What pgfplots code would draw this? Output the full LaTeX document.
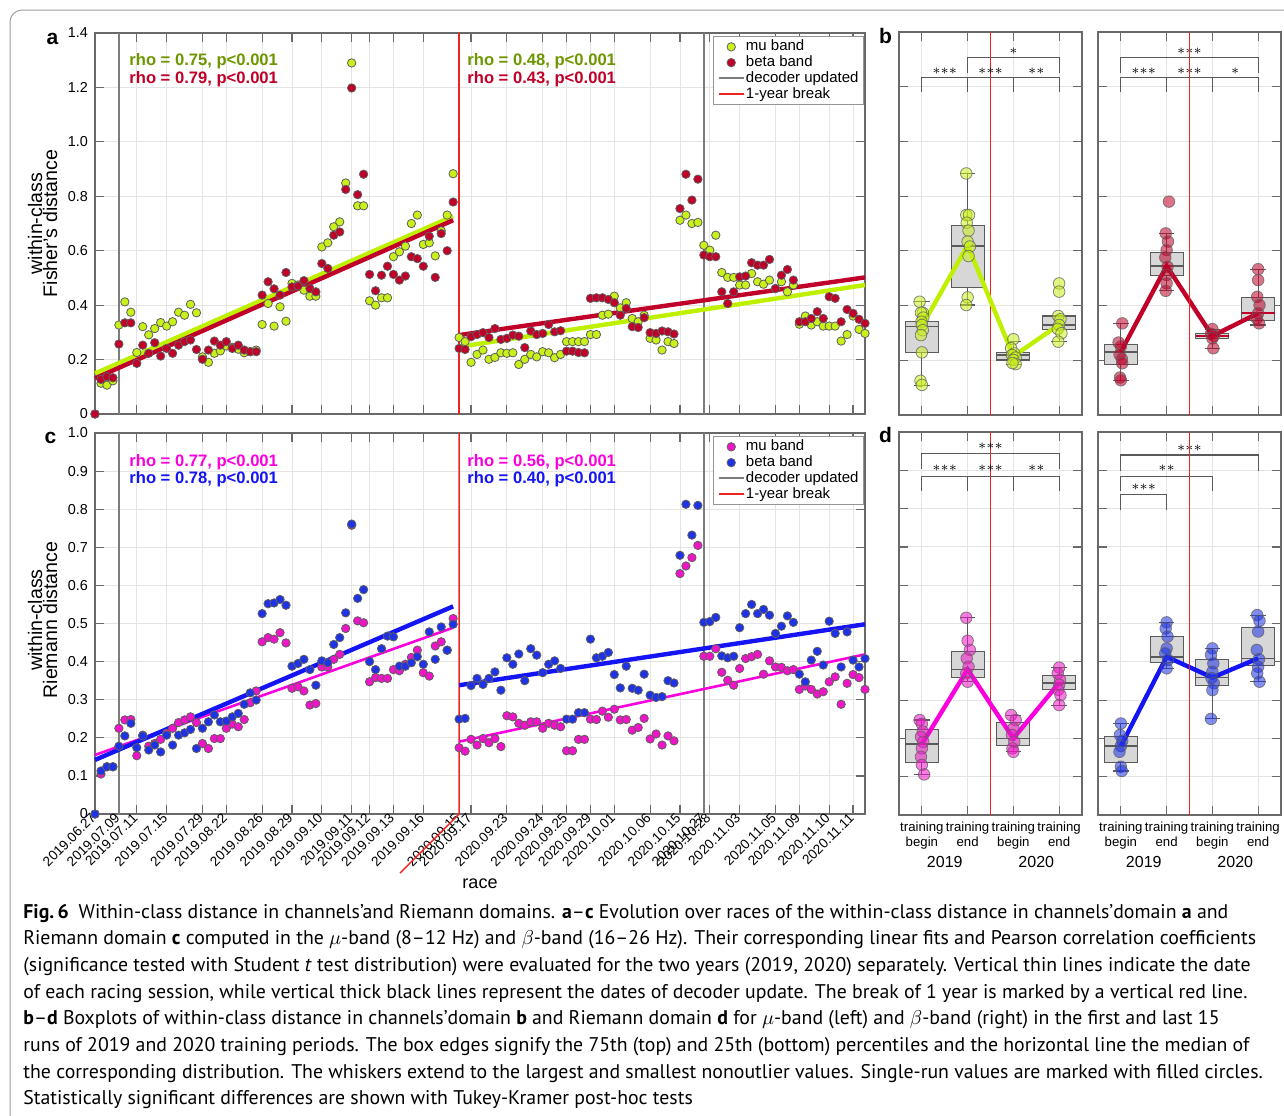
\documentclass[border=0pt]{standalone}
\usepackage{fontspec}
\setmainfont{Liberation Sans}
\newfontfamily\capfont{PT Sans}
\usepackage{pgfplots}
\pgfplotsset{compat=1.18}
\usepackage{pgfplotstable}
\usepgfplotslibrary{statistics}

\definecolor{mufill}{RGB}{200,240,25}
\definecolor{muline}{RGB}{190,240,0}
\definecolor{mutext}{RGB}{110,150,0}
\definecolor{betared}{RGB}{192,0,40}
\definecolor{magfill}{RGB}{240,20,200}
\definecolor{magline}{RGB}{250,0,220}
\definecolor{magtext}{RGB}{250,0,220}
\definecolor{bluefill}{RGB}{30,50,230}
\definecolor{blueline}{RGB}{20,20,245}
\definecolor{edgegray}{RGB}{95,95,95}
\definecolor{axgray}{RGB}{105,105,105}
\definecolor{gridgray}{RGB}{228,228,228}
\definecolor{decgray}{RGB}{125,125,125}
\definecolor{boxfill}{RGB}{215,215,215}
\definecolor{boxedge}{RGB}{90,90,90}
\definecolor{breakred}{RGB}{240,35,35}

\pgfplotstableread{
i muA betaA muC betaC
0 0 0 0 0
1 0.113 0.127 0.105 0.113
2 0.106 0.137 0.124 0.124
3 0.122 0.133 0.124 0.124
4 0.327 0.257 0.225 0.178
5 0.412 0.335 0.247 0.205
6 0.374 0.335 0.248 0.238
7 0.226 0.186 0.153 0.174
8 0.321 0.253 0.207 0.205
9 0.291 0.223 0.178 0.168
10 0.314 0.262 0.185 0.181
11 0.336 0.213 0.196 0.163
12 0.323 0.241 0.212 0.207
13 0.339 0.223 0.225 0.181
14 0.374 0.253 0.240 0.207
15 0.363 0.266 0.247 0.213
16 0.403 0.272 0.255 0.222
17 0.372 0.237 0.240 0.172
18 0.210 0.201 0.185 0.225
19 0.190 0.235 0.172 0.242
20 0.223 0.268 0.198 0.260
21 0.232 0.253 0.198 0.242
22 0.250 0.266 0.225 0.244
23 0.245 0.241 0.236 0.255
24 0.238 0.253 0.229 0.264
25 0.225 0.235 0.248 0.288
26 0.229 0.229 0.292 0.318
27 0.235 0.229 0.323 0.299
28 0.329 0.437 0.452 0.526
29 0.406 0.486 0.463 0.552
30 0.323 0.460 0.459 0.554
31 0.394 0.437 0.476 0.563
32 0.341 0.520 0.449 0.548
33 0.480 0.467 0.330 0.388
34 0.474 0.470 0.334 0.395
35 0.455 0.490 0.323 0.406
36 0.433 0.461 0.286 0.379
37 0.433 0.449 0.290 0.338
38 0.614 0.553 0.386 0.402
39 0.629 0.535 0.386 0.397
40 0.688 0.657 0.406 0.445
41 0.706 0.669 0.419 0.463
42 0.849 0.825 0.487 0.528
43 1.290 1.198 0.758 0.761
44 0.765 0.806 0.507 0.566
45 0.765 0.881 0.502 0.589
46 0.416 0.513 0.347 0.400
47 0.400 0.453 0.358 0.379
48 0.427 0.510 0.356 0.434
49 0.427 0.543 0.356 0.467
50 0.578 0.513 0.379 0.465
51 0.596 0.492 0.376 0.388
52 0.617 0.507 0.393 0.388
53 0.700 0.578 0.411 0.397
54 0.731 0.571 0.430 0.413
55 0.623 0.543 0.371 0.393
56 0.629 0.653 0.362 0.478
57 0.581 0.502 0.441 0.406
58 0.673 0.663 0.452 0.491
59 0.731 0.600 0.430 0.430
60 0.883 0.779 0.513 0.498
61 0.281 0.241 0.174 0.249
62 0.266 0.237 0.165 0.251
63 0.190 0.284 0.196 0.337
64 0.219 0.292 0.181 0.356
65 0.235 0.299 0.198 0.340
66 0.201 0.281 0.187 0.356
67 0.208 0.314 0.198 0.373
68 0.225 0.274 0.177 0.325
69 0.223 0.278 0.258 0.410
70 0.225 0.290 0.255 0.393
71 0.182 0.286 0.238 0.420
72 0.201 0.244 0.233 0.350
73 0.219 0.305 0.242 0.434
74 0.210 0.292 0.242 0.417
75 0.229 0.296 0.225 0.371
76 0.225 0.329 0.238 0.393
77 0.207 0.302 0.233 0.402
78 0.219 0.306 0.229 0.382
79 0.266 0.231 0.166 0.249
80 0.266 0.231 0.166 0.249
81 0.266 0.226 0.196 0.266
82 0.266 0.225 0.196 0.266
83 0.292 0.425 0.249 0.459
84 0.292 0.427 0.248 0.410
85 0.363 0.427 0.270 0.414
86 0.367 0.421 0.254 0.424
87 0.433 0.409 0.275 0.366
88 0.390 0.363 0.247 0.331
89 0.409 0.388 0.248 0.388
90 0.351 0.321 0.220 0.330
91 0.339 0.318 0.227 0.325
92 0.363 0.354 0.251 0.367
93 0.278 0.299 0.197 0.312
94 0.272 0.296 0.210 0.306
95 0.235 0.305 0.181 0.308
96 0.266 0.302 0.205 0.350
97 0.259 0.294 0.192 0.344
98 0.712 0.755 0.631 0.679
99 0.731 0.881 0.651 0.813
100 0.700 0.786 0.673 0.732
101 0.704 0.863 0.705 0.810
102 0.620 0.584 0.414 0.503
103 0.602 0.578 0.414 0.505
104 0.657 0.578 0.434 0.516
105 0.520 0.449 0.372 0.415
106 0.502 0.406 0.351 0.410
107 0.502 0.449 0.338 0.414
108 0.474 0.504 0.382 0.489
109 0.474 0.507 0.408 0.526
110 0.516 0.556 0.413 0.550
111 0.486 0.547 0.419 0.526
112 0.477 0.547 0.367 0.537
113 0.492 0.568 0.402 0.522
114 0.461 0.461 0.386 0.474
115 0.486 0.510 0.385 0.493
116 0.449 0.531 0.376 0.520
117 0.474 0.492 0.379 0.503
118 0.330 0.339 0.327 0.367
119 0.360 0.339 0.336 0.347
120 0.327 0.351 0.327 0.404
121 0.339 0.376 0.315 0.427
122 0.323 0.351 0.321 0.391
123 0.323 0.431 0.347 0.506
124 0.323 0.425 0.360 0.474
125 0.268 0.339 0.288 0.386
126 0.292 0.384 0.343 0.478
127 0.360 0.370 0.366 0.404
128 0.311 0.348 0.358 0.386
129 0.296 0.333 0.327 0.408
}\racedata

\pgfplotsset{
  base/.style={scale only axis, anchor=north west, clip=false,
    axis line style={draw=axgray, line width=0.8pt},
    tick style={draw=axgray, line width=0.6pt},
    major tick length=4.5pt, tick align=inside,
    grid=major, major grid style={draw=gridgray, line width=0.45pt},
    ticklabel style={font=\fontsize{7.2}{8}\selectfont}},
  race/.style={base, width=385pt, height=190.5pt, xmin=0, xmax=129,
    xtick={0,4,7,12,18,22,28,33,38,43,46,50,55,61,63,69,75,79,83,87,93,98,102,103,108,114,118,123,127}},
  pts/.style={only marks, mark=*, mark size=2.1pt, mark options={draw=edgegray, line width=0.4pt, fill=#1}, forget plot},
  bpts/.style={only marks, mark=*, mark size=2.9pt, mark options={draw=edgegray, draw opacity=0.75, line width=0.4pt, fill=#1, fill opacity=0.55}, forget plot},
  bx/.style={forget plot, draw=boxedge, fill=boxfill, line width=0.55pt, solid,
    boxplot/draw direction=y,
    boxplot/box extend=0.72, boxplot/whisker extend=0.34,
    boxplot/every median/.style={draw=#1, line width=0.8pt}},
  brk/.style={draw=breakred, color=breakred, line width=0.75pt, forget plot, mark=none, solid},
  leg/.style={legend style={at={(0.999,0.992)}, anchor=north east, draw=axgray!70, line width=0.5pt, fill=white,
    font=\fontsize{7.5}{7.5}\selectfont, inner xsep=2pt, inner ysep=1.2pt, row sep=0pt,
    nodes={inner sep=0.6pt, text height=5.3pt, text depth=1.4pt}}, legend cell align=left},
  boxax/.style={base, width=91.5pt, height=191.5pt, xmin=0.5, xmax=4.5, xtick={1,2,3,4}, xticklabels={}, yticklabels={}},
  bpanel/.style={boxax, ymin=0, ymax=1.4, ytick={0.2,0.4,0.6,0.8,1.0,1.2}},
  dpanel/.style={boxax, ymin=0, ymax=1, ytick={0.1,0.2,0.3,0.4,0.5,0.6,0.7,0.8,0.9},
    xticklabels={training\\begin,training\\end,training\\begin,training\\end},
    xticklabel style={align=center, font=\fontsize{6.6}{7.4}\selectfont}},
}
\tikzset{sig/.style={draw=boxedge, line width=0.55pt},
  redv/.style={draw=breakred, line width=0.8pt},
  star/.style={font=\fontsize{7.5}{8}\selectfont, inner sep=0pt},
  rho/.style={anchor=west, inner sep=0pt, font=\bfseries\fontsize{8.3}{9}\selectfont},
  capline/.style={anchor=base west, inner sep=0pt, font=\capfont\fontsize{9.9}{13}\selectfont}}
\newcommand\sthree{$\mathord{\ast}\mathord{\ast}\mathord{\ast}$}
\newcommand\stwo{$\mathord{\ast}\mathord{\ast}$}
\newcommand\sone{$\mathord{\ast}$}

\begin{document}
\begin{tikzpicture}
\useasboundingbox (0,0) rectangle (642pt,-557.5pt);

% ---------------- panel a ----------------
\begin{axis}[race, leg, at={(47.5pt,-16.5pt)}, ymin=0, ymax=1.4,
  ytick={0,0.2,0.4,0.6,0.8,1,1.2,1.4}, yticklabels={0,0.2,0.4,0.6,0.8,1.0,1.2,1.4},
  xticklabels={}]
\addplot[decgray, line width=1.1pt, forget plot] coordinates {(4,0) (4,1.4)};
\addplot[decgray, line width=1.1pt, forget plot] coordinates {(102,0) (102,1.4)};
\addplot[brk] coordinates {(61,0) (61,1.4)};
\addplot[pts=mufill] table[x=i, y=muA] {\racedata};
\addplot[pts=betared] table[x=i, y=betaA] {\racedata};
\addplot[muline, line width=2.2pt, forget plot] coordinates {(0,0.149) (60,0.727)};
\addplot[betared, line width=2.2pt, forget plot] coordinates {(0,0.131) (60,0.712)};
\addplot[muline, line width=2.2pt, forget plot] coordinates {(61,0.247) (129,0.474)};
\addplot[betared, line width=2.2pt, forget plot] coordinates {(61,0.290) (129,0.502)};
\addlegendimage{legend image code/.code={\draw[draw=edgegray, fill=mufill, line width=0.4pt] (6.25pt,0pt) circle[radius=2.1pt];}}
\addlegendentry{mu band}
\addlegendimage{legend image code/.code={\draw[draw=edgegray, fill=betared, line width=0.4pt] (6.25pt,0pt) circle[radius=2.1pt];}}
\addlegendentry{beta band}
\addlegendimage{legend image code/.code={\draw[decgray, line width=1pt] (0pt,0pt) -- (12.5pt,0pt);}}
\addlegendentry{decoder updated}
\addlegendimage{legend image code/.code={\draw[breakred, line width=0.9pt] (0pt,0pt) -- (12.5pt,0pt);}}
\addlegendentry{1-year break}
\end{axis}

% ---------------- panel c ----------------
\begin{axis}[race, leg, at={(47.5pt,-216.5pt)}, ymin=0, ymax=1,
  ytick={0,0.1,0.2,0.3,0.4,0.5,0.6,0.7,0.8,0.9,1}, yticklabels={0,0.1,0.2,0.3,0.4,0.5,0.6,0.7,0.8,0.9,1.0},
  xticklabels={2019.06.27,2019.07.09,2019.07.11,2019.07.15,2019.07.29,2019.08.22,2019.08.26,2019.08.29,2019.09.10,2019.09.11,2019.09.12,2019.09.13,2019.09.16,2020.09.15,2020.09.17,2020.09.23,2020.09.24,2020.09.25,2020.09.29,2020.10.01,2020.10.06,2020.10.15,2020.10.27,2020.10.28,2020.11.03,2020.11.05,2020.11.09,2020.11.10,2020.11.11},
  xticklabel style={rotate=45, anchor=east, font=\fontsize{6.8}{7}\selectfont, inner sep=1pt}]
\addplot[decgray, line width=1.1pt, forget plot] coordinates {(4,0) (4,1)};
\addplot[decgray, line width=1.1pt, forget plot] coordinates {(102,0) (102,1)};
\addplot[brk] coordinates {(61,1) (61,0) (51.1,-0.155)};
\addplot[pts=magfill] table[x=i, y=muC] {\racedata};
\addplot[pts=bluefill] table[x=i, y=betaC] {\racedata};
\addplot[magline, line width=1.3pt, forget plot] coordinates {(0,0.155) (60,0.489)};
\addplot[blueline, line width=2.2pt, forget plot] coordinates {(0,0.142) (60,0.545)};
\addplot[magline, line width=1.3pt, forget plot] coordinates {(61,0.190) (129,0.419)};
\addplot[blueline, line width=2.2pt, forget plot] coordinates {(61,0.338) (129,0.498)};
\addlegendimage{legend image code/.code={\draw[draw=edgegray, fill=magfill, line width=0.4pt] (6.25pt,0pt) circle[radius=2.1pt];}}
\addlegendentry{mu band}
\addlegendimage{legend image code/.code={\draw[draw=edgegray, fill=bluefill, line width=0.4pt] (6.25pt,0pt) circle[radius=2.1pt];}}
\addlegendentry{beta band}
\addlegendimage{legend image code/.code={\draw[decgray, line width=1pt] (0pt,0pt) -- (12.5pt,0pt);}}
\addlegendentry{decoder updated}
\addlegendimage{legend image code/.code={\draw[breakred, line width=0.9pt] (0pt,0pt) -- (12.5pt,0pt);}}
\addlegendentry{1-year break}
\end{axis}

% ---------------- panel b left (mu) ----------------
\begin{axis}[bpanel, at={(449.5pt,-16pt)}]
\addplot[bx=boxedge, boxplot prepared={draw position=1, lower whisker=0.107, lower quartile=0.229, median=0.323, upper quartile=0.341, upper whisker=0.414}] coordinates {};
\addplot[bx=boxedge, boxplot prepared={draw position=2, lower whisker=0.402, lower quartile=0.467, median=0.618, upper quartile=0.694, upper whisker=0.883}] coordinates {};
\addplot[bx=boxedge, boxplot prepared={draw position=3, lower whisker=0.186, lower quartile=0.201, median=0.219, upper quartile=0.229, upper whisker=0.268}] coordinates {};
\addplot[bx=boxedge, boxplot prepared={draw position=4, lower whisker=0.268, lower quartile=0.313, median=0.329, upper quartile=0.362, upper whisker=0.362}] coordinates {};
\addplot[bpts=mufill] coordinates {(0.95,0.414)(1.02,0.374)(0.98,0.374)(1.03,0.356)(0.99,0.341)(1.0,0.329)(1.02,0.310)(0.98,0.292)(1.0,0.229)(0.97,0.125)(1.0,0.110)
 (1.97,0.883)(1.97,0.731)(2.03,0.731)(1.98,0.703)(2.02,0.674)(2.0,0.634)(2.05,0.616)(2.02,0.581)(2.0,0.430)(1.97,0.402)
 (3.0,0.277)(2.95,0.244)(3.02,0.225)(2.97,0.219)(3.05,0.210)(3.0,0.201)(3.05,0.186)(2.98,0.190)
 (4.0,0.481)(4.0,0.451)(3.98,0.362)(4.03,0.350)(4.0,0.329)(3.97,0.315)(4.05,0.299)(3.98,0.268)};
\draw[redv] (axis cs:2.5,0) -- (axis cs:2.5,1.4);
\addplot[muline, line width=2.2pt, forget plot] coordinates {(1,0.325) (2,0.62) (3,0.215) (4,0.33)};
\draw[sig] (1,1.182) -- (1,1.234) -- (4,1.234) -- (4,1.182);
\draw[sig] (2,1.182) -- (2,1.234); \draw[sig] (3,1.182) -- (3,1.234);
\draw[sig] (2,1.249) -- (2,1.306) -- (4,1.306) -- (4,1.249);
\node[star] at (1.5,1.258) {\sthree};
\node[star] at (2.5,1.258) {\sthree};
\node[star] at (3.5,1.258) {\stwo};
\node[star] at (3,1.328) {\sone};
\end{axis}

% ---------------- panel b right (beta) ----------------
\begin{axis}[bpanel, at={(549pt,-16pt)}]
\addplot[bx=boxedge, boxplot prepared={draw position=1, lower whisker=0.125, lower quartile=0.186, median=0.231, upper quartile=0.259, upper whisker=0.335}] coordinates {};
\addplot[bx=boxedge, boxplot prepared={draw position=2, lower whisker=0.454, lower quartile=0.509, median=0.545, upper quartile=0.594, upper whisker=0.664}] coordinates {};
\addplot[bx=betared, boxplot prepared={draw position=3, lower whisker=0.244, lower quartile=0.280, median=0.289, upper quartile=0.297, upper whisker=0.314}] coordinates {};
\addplot[bx=betared, boxplot prepared={draw position=4, lower whisker=0.329, lower quartile=0.344, median=0.372, upper quartile=0.430, upper whisker=0.533}] coordinates {};
\addplot[bpts=betared] coordinates {(1.03,0.335)(0.95,0.265)(1.0,0.251)(0.97,0.221)(1.02,0.205)(1.03,0.189)(0.98,0.137)(1.0,0.127)
 (2.05,0.780)(1.98,0.664)(2.03,0.634)(2.0,0.603)(1.97,0.576)(2.02,0.542)(2.0,0.512)(2.0,0.481)(1.98,0.454)
 (3.0,0.314)(2.97,0.297)(3.03,0.289)(3.0,0.280)(3.02,0.244)
 (4.0,0.533)(4.0,0.493)(3.98,0.432)(4.03,0.402)(4.0,0.372)(3.97,0.353)(4.02,0.335)};
\addplot[betared, line width=2.2pt, forget plot] coordinates {(1,0.231) (2,0.545) (3,0.289) (4,0.372)};
\draw[sig] (1,1.182) -- (1,1.234) -- (4,1.234) -- (4,1.182);
\draw[sig] (2,1.182) -- (2,1.234); \draw[sig] (3,1.182) -- (3,1.234);
\draw[sig] (1,1.249) -- (1,1.306) -- (4,1.306) -- (4,1.249);
\node[star] at (1.5,1.258) {\sthree};
\node[star] at (2.5,1.258) {\sthree};
\node[star] at (3.5,1.258) {\sone};
\node[star] at (2.5,1.328) {\sthree};
\end{axis}

% ---------------- panel d left (mu) ----------------
\begin{axis}[dpanel, at={(449.5pt,-216pt)}]
\addplot[bx=boxedge, boxplot prepared={draw position=1, lower whisker=0.106, lower quartile=0.138, median=0.185, upper quartile=0.224, upper whisker=0.248}] coordinates {};
\addplot[bx=boxedge, boxplot prepared={draw position=2, lower whisker=0.348, lower quartile=0.359, median=0.380, upper quartile=0.426, upper whisker=0.515}] coordinates {};
\addplot[bx=boxedge, boxplot prepared={draw position=3, lower whisker=0.165, lower quartile=0.181, median=0.200, upper quartile=0.241, upper whisker=0.261}] coordinates {};
\addplot[bx=boxedge, boxplot prepared={draw position=4, lower whisker=0.287, lower quartile=0.328, median=0.344, upper quartile=0.364, upper whisker=0.385}] coordinates {};
\addplot[bpts=magfill] coordinates {(0.95,0.248)(1.0,0.238)(1.02,0.218)(0.98,0.204)(1.03,0.191)(1.0,0.174)(0.98,0.152)(1.0,0.131)(1.05,0.106)
 (1.97,0.515)(2.0,0.455)(2.05,0.431)(1.98,0.409)(2.02,0.387)(1.97,0.370)(2.0,0.348)
 (2.95,0.261)(3.05,0.248)(3.0,0.226)(2.97,0.209)(3.02,0.191)(2.98,0.174)(3.0,0.165)
 (4.0,0.385)(3.97,0.370)(4.02,0.353)(4.0,0.340)(3.98,0.327)(4.03,0.313)(4.0,0.287)};
\draw[redv] (axis cs:2.5,0) -- (axis cs:2.5,1);
\addplot[magline, line width=2.2pt, forget plot] coordinates {(1,0.185) (2,0.38) (3,0.20) (4,0.345)};
\draw[sig] (1,0.846) -- (1,0.885) -- (4,0.885) -- (4,0.846);
\draw[sig] (2,0.846) -- (2,0.885); \draw[sig] (3,0.846) -- (3,0.885);
\draw[sig] (1,0.903) -- (1,0.944) -- (4,0.944) -- (4,0.903);
\node[star] at (1.5,0.905) {\sthree};
\node[star] at (2.5,0.905) {\sthree};
\node[star] at (3.5,0.905) {\stwo};
\node[star] at (2.5,0.962) {\sthree};
\node[font=\fontsize{8}{8}\selectfont] at (1.5,-0.123) {2019};
\node[font=\fontsize{8}{8}\selectfont] at (3.5,-0.123) {2020};
\end{axis}

% ---------------- panel d right (beta) ----------------
\begin{axis}[dpanel, at={(549pt,-216pt)}]
\addplot[bx=boxedge, boxplot prepared={draw position=1, lower whisker=0.115, lower quartile=0.138, median=0.180, upper quartile=0.206, upper whisker=0.239}] coordinates {};
\addplot[bx=boxedge, boxplot prepared={draw position=2, lower whisker=0.383, lower quartile=0.399, median=0.413, upper quartile=0.467, upper whisker=0.503}] coordinates {};
\addplot[bx=boxedge, boxplot prepared={draw position=3, lower whisker=0.251, lower quartile=0.338, median=0.359, upper quartile=0.406, upper whisker=0.435}] coordinates {};
\addplot[bx=boxedge, boxplot prepared={draw position=4, lower whisker=0.348, lower quartile=0.390, median=0.409, upper quartile=0.490, upper whisker=0.522}] coordinates {};
\addplot[bpts=bluefill] coordinates {(1.0,0.239)(0.98,0.209)(1.03,0.194)(1.0,0.180)(0.97,0.165)(1.0,0.126)(1.02,0.115)
 (2.0,0.503)(1.98,0.487)(2.02,0.466)(2.0,0.435)(1.97,0.422)(2.03,0.405)(2.0,0.383)
 (3.0,0.435)(2.97,0.418)(3.02,0.396)(3.0,0.374)(2.98,0.358)(3.03,0.344)(3.0,0.326)(2.97,0.251)
 (3.98,0.522)(4.03,0.507)(4.0,0.479)(3.97,0.431)(4.02,0.407)(4.0,0.387)(3.98,0.370)(4.03,0.348)};
\addplot[blueline, line width=2.2pt, forget plot] coordinates {(1,0.18) (2,0.413) (3,0.359) (4,0.409)};
\draw[sig] (1,0.899) -- (1,0.940) -- (4,0.940) -- (4,0.899);
\draw[sig] (1,0.846) -- (1,0.885) -- (3,0.885) -- (3,0.846);
\draw[sig] (1,0.796) -- (1,0.836) -- (2,0.836) -- (2,0.796);
\node[star] at (2.5,0.957) {\sthree};
\node[star] at (2,0.905) {\stwo};
\node[star] at (1.5,0.855) {\sthree};
\node[font=\fontsize{8}{8}\selectfont] at (1.5,-0.123) {2019};
\node[font=\fontsize{8}{8}\selectfont] at (3.5,-0.123) {2020};
\end{axis}

% ---------------- annotations (pixel coordinates) ----------------
\begin{scope}[x=0.5pt, y=-0.5pt]
\draw[breakred, line width=0.8pt] (1189.5,32) -- (1189.5,415);
\draw[breakred, line width=0.8pt] (1189.5,432) -- (1189.5,815);
\draw[gray!75, line width=0.5pt, rounded corners=6pt] (10,1125) -- (10,10) -- (1295,10);
\node[font=\bfseries\fontsize{10.5}{10.5}\selectfont] at (52.5,38.5) {a};
\node[font=\bfseries\fontsize{10.5}{10.5}\selectfont] at (50.5,437.5) {c};
\node[font=\bfseries\fontsize{10.5}{10.5}\selectfont] at (885.5,36) {b};
\node[font=\bfseries\fontsize{10.5}{10.5}\selectfont] at (885.5,435) {d};
\node[rotate=90, align=center, font=\fontsize{9.8}{7.5}\selectfont, inner sep=0pt] at (42.5,223.5) {within-class\\Fisher's distance};
\node[rotate=90, align=center, font=\fontsize{9.8}{7.5}\selectfont, inner sep=0pt] at (42.5,620) {within-class\\Riemann distance};
\node[font=\fontsize{9}{9}\selectfont] at (480,884) {race};
\node[rho, text=mutext] at (129,61.7) {rho = 0.75, p<0.001};
\node[rho, text=betared] at (129,79.3) {rho = 0.79, p<0.001};
\node[rho, text=mutext] at (467,61.7) {rho = 0.48, p<0.001};
\node[rho, text=betared] at (467,79.3) {rho = 0.43, p<0.001};
\node[rho, text=magtext] at (129,461.7) {rho = 0.77, p<0.001};
\node[rho, text=blueline] at (129,479.3) {rho = 0.78, p<0.001};
\node[rho, text=magtext] at (467,461.7) {rho = 0.56, p<0.001};
\node[rho, text=blueline] at (467,479.3) {rho = 0.40, p<0.001};
\node[capline] at (23,918) {\textbf{Fig.\,6}\enspace Within-class distance in channels’and Riemann domains. \textbf{a}–\textbf{c} Evolution over races of the within-class distance in channels’domain \textbf{a} and};
\node[capline] at (23,944.7) {Riemann domain \textbf{c} computed in the $\mu$-band (8–12 Hz) and $\beta$-band (16–26 Hz). Their corresponding linear fits and Pearson correlation coefficients};
\node[capline] at (23,971.3) {(significance tested with Student \textit{t} test distribution) were evaluated for the two years (2019, 2020) separately. Vertical thin lines indicate the date};
\node[capline] at (23,998) {of each racing session, while vertical thick black lines represent the dates of decoder update. The break of 1 year is marked by a vertical red line.};
\node[capline] at (23,1024.7) {\textbf{b}–\textbf{d} Boxplots of within-class distance in channels’domain \textbf{b} and Riemann domain \textbf{d} for $\mu$-band (left) and $\beta$-band (right) in the first and last 15};
\node[capline] at (23,1051.3) {runs of 2019 and 2020 training periods. The box edges signify the 75th (top) and 25th (bottom) percentiles and the horizontal line the median of};
\node[capline] at (23,1078) {the corresponding distribution. The whiskers extend to the largest and smallest nonoutlier values. Single-run values are marked with filled circles.};
\node[capline] at (23,1104.7) {Statistically significant differences are shown with Tukey-Kramer post-hoc tests};
\end{scope}
\end{tikzpicture}
\end{document}
